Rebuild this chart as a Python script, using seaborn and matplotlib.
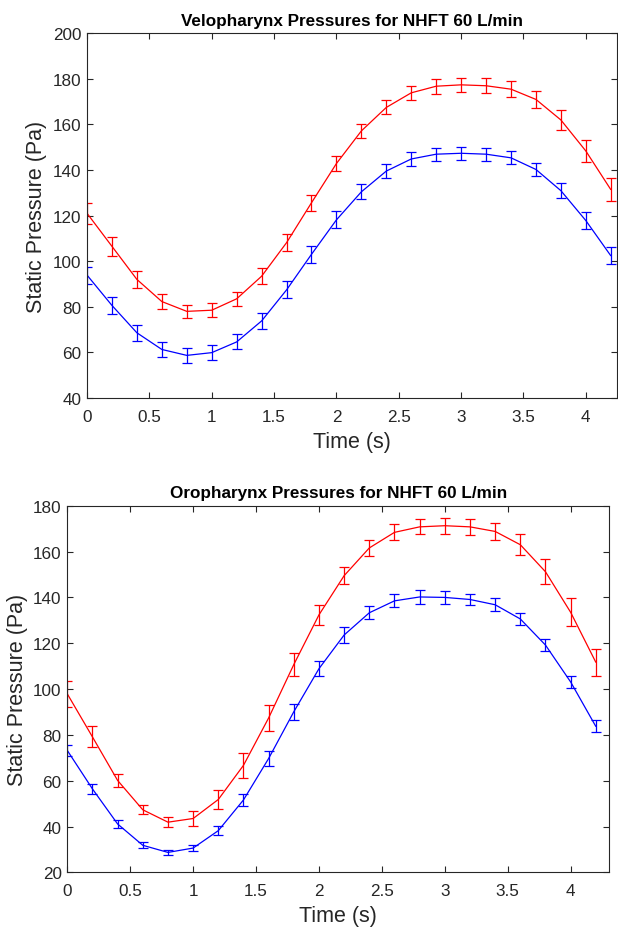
import numpy as np
import pandas as pd
import matplotlib
matplotlib.use("Agg")
import matplotlib.pyplot as plt
import seaborn as sns

# ---- data ----
time_s = [0.0, 0.2, 0.4, 0.6, 0.8, 1.0, 1.2, 1.4, 1.6, 1.8, 2.0,
          2.2, 2.4, 2.6, 2.8, 3.0, 3.2, 3.4, 3.6, 3.8, 4.0, 4.2]

velo_red = [121.0, 106.5, 92.0, 82.3, 78.0, 78.5, 83.5, 93.4, 108.1, 125.6, 142.8,
            157.1, 167.4, 173.8, 176.7, 177.3, 176.9, 175.4, 170.9, 161.9, 148.3, 131.4]
velo_red_err = [4.6, 4.2, 3.6, 3.2, 2.8, 3.0, 3.1, 3.5, 3.7, 3.6, 3.4,
                3.2, 3.1, 3.1, 3.2, 3.2, 3.3, 3.5, 3.9, 4.5, 4.9, 4.9]
velo_blue = [93.9, 80.6, 68.6, 61.3, 58.7, 59.9, 64.6, 73.8, 87.4, 103.0, 118.1,
             130.4, 139.5, 144.8, 146.9, 147.3, 146.9, 145.3, 140.2, 130.9, 117.8, 102.4]
velo_blue_err = [3.7, 3.7, 3.4, 3.4, 3.2, 3.2, 3.3, 3.5, 3.7, 3.8, 3.7,
                 3.3, 3.1, 2.9, 2.9, 2.9, 2.9, 2.8, 3.0, 3.3, 3.7, 3.7]

oro_red = [97.9, 79.1, 60.1, 47.3, 41.9, 43.5, 51.8, 66.7, 87.4, 110.7, 132.4,
           149.5, 161.6, 168.4, 170.8, 171.3, 170.8, 168.8, 163.0, 151.2, 133.5, 111.7]
oro_red_err = [5.6, 4.6, 3.0, 2.0, 2.3, 3.1, 4.3, 5.4, 5.7, 5.2, 4.3,
               3.8, 3.4, 3.5, 3.3, 3.4, 3.4, 3.9, 4.7, 5.5, 6.1, 5.9]
oro_blue = [73.2, 56.4, 41.1, 31.8, 28.7, 30.6, 38.2, 51.6, 69.7, 90.1, 108.9,
            123.6, 133.3, 138.5, 140.2, 140.0, 139.1, 136.8, 130.6, 119.2, 103.1, 83.7]
oro_blue_err = [2.3, 2.3, 1.9, 1.3, 1.2, 1.3, 1.9, 2.8, 3.4, 3.5, 3.4,
                3.3, 2.9, 2.8, 3.0, 2.9, 2.6, 2.8, 2.7, 2.8, 2.6, 2.6]

titles = ["Velopharynx Pressures for NHFT 60 L/min",
          "Oropharynx Pressures for NHFT 60 L/min"]
x_ticks = [0, 0.5, 1, 1.5, 2, 2.5, 3, 3.5, 4]
x_tick_labels = ["0", "0.5", "1", "1.5", "2", "2.5", "3", "3.5", "4"]
y_ticks_top = [40, 60, 80, 100, 120, 140, 160, 180, 200]
y_ticks_bot = [20, 40, 60, 80, 100, 120, 140, 160, 180]

# ---- style ----
sns.set_theme(style="white")
plt.rcParams['font.family'] = ['Liberation Sans', 'DejaVu Sans']
TXT = "#262626"

fig = plt.figure(figsize=(6.18, 9.28), dpi=100)
ax1 = fig.add_axes([0.1408, 0.5700, 0.8576, 0.3933])
ax2 = fig.add_axes([0.1089, 0.0589, 0.8770, 0.3950])

panels = [
    (ax1, velo_red, velo_red_err, velo_blue, velo_blue_err, titles[0], (0, 4.25), (40, 200), y_ticks_top),
    (ax2, oro_red, oro_red_err, oro_blue, oro_blue_err, titles[1], (0, 4.307), (20, 180), y_ticks_bot),
]

for ax, r, re, b, be, title, xl, yl, yt in panels:
    df = pd.DataFrame({
        "Time": time_s * 2,
        "Pressure": r + b,
        "Series": ["red"] * len(r) + ["blue"] * len(b),
    })
    sns.lineplot(data=df, x="Time", y="Pressure", hue="Series",
                 palette={"red": "#FF0000", "blue": "#0000FF"},
                 linewidth=0.9, legend=False, ax=ax, errorbar=None)
    ax.errorbar(time_s, r, yerr=re, fmt="none", ecolor="#FF0000",
                elinewidth=0.9, capsize=3.6, capthick=0.9)
    ax.errorbar(time_s, b, yerr=be, fmt="none", ecolor="#0000FF",
                elinewidth=0.9, capsize=3.6, capthick=0.9)
    ax.set_xlim(*xl)
    ax.set_ylim(*yl)
    ax.set_xticks(x_ticks)
    ax.set_xticklabels(x_tick_labels)
    ax.set_yticks(yt)
    ax.set_yticklabels([str(v) for v in yt])
    ax.tick_params(axis="both", which="both", direction="in", length=4,
                   width=0.8, colors=TXT, labelsize=12.3,
                   top=True, right=True, bottom=True, left=True)
    ax.tick_params(axis="x", pad=8)
    ax.tick_params(axis="y", pad=4)
    for s in ax.spines.values():
        s.set_visible(True)
        s.set_color(TXT)
        s.set_linewidth(0.8)
    ax.set_xlabel("Time (s)", fontsize=15.5, color=TXT, labelpad=5)
    ax.set_ylabel("Static Pressure (Pa)", fontsize=15.5, color=TXT, labelpad=4)
    ax.set_title(title, fontsize=12.3, fontweight="bold", color="black", pad=6)
    ax.set_facecolor("white")

fig.savefig("out.png", dpi=100, facecolor="white")
